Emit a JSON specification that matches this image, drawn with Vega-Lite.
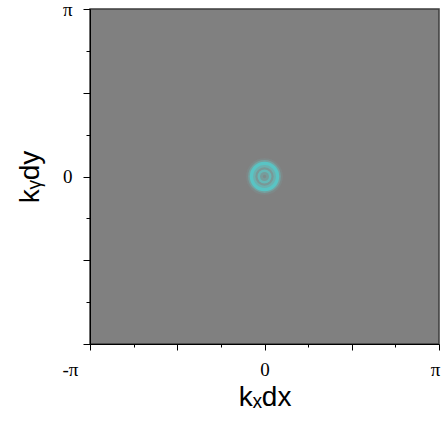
{
  "$schema": "https://vega.github.io/schema/vega-lite/v6.json",
  "autosize": "none",
  "padding": {"left": 90, "top": 9, "right": 2, "bottom": 77},
  "width": 349,
  "height": 335,
  "background": "white",
  "config": {
    "view": {"fill": "#808080", "stroke": "#3c3c3c", "strokeWidth": 1.5},
    "axis": {
      "domainColor": "black",
      "tickColor": "black",
      "grid": false,
      "labelFont": "Liberation Serif",
      "labelFontSize": 19,
      "labelColor": "black",
      "titleFont": "Liberation Sans",
      "titleFontSize": 28,
      "titleFontWeight": "normal",
      "titleColor": "black"
    }
  },
  "data": {
    "values": [
      {"kx": 0, "ky": 0, "r": 0.33, "v": 0.1},
      {"kx": 0, "ky": 0, "r": 0.295, "v": 0.4},
      {"kx": 0, "ky": 0, "r": 0.265, "v": 0.85},
      {"kx": 0, "ky": 0, "r": 0.205, "v": 0.6},
      {"kx": 0, "ky": 0, "r": 0.165, "v": 0.3},
      {"kx": 0, "ky": 0, "r": 0.125, "v": 0.7},
      {"kx": 0, "ky": 0, "r": 0.08, "v": 0.35},
      {"kx": 0, "ky": 0, "r": 0.03, "v": 0.15}
    ]
  },
  "mark": {"type": "point", "filled": true, "shape": "circle", "opacity": 1, "strokeWidth": 0},
  "encoding": {
    "x": {
      "field": "kx",
      "type": "quantitative",
      "scale": {"domain": [-3.14159265, 3.14159265], "nice": false, "zero": false},
      "axis": {
        "title": "kₓdx",
        "values": [-3.14159265, -2.35619449, -1.57079633, -0.78539816, 0, 0.78539816, 1.57079633, 2.35619449, 3.14159265],
        "labelExpr": "datum.value < -3 ? '-π' : (datum.value > 3 ? 'π' : (abs(datum.value) < 0.01 ? '0' : ''))",
        "labelFlush": false,
        "labelBound": false,
        "labelOverlap": false,
        "labelPadding": 10,
        "labelOffset": {"condition": [{"test": "datum.value < -3", "value": -20}, {"test": "datum.value > 3", "value": -4}], "value": 0},
        "tickSize": {"condition": {"test": "abs(datum.value / 1.5707963 - round(datum.value / 1.5707963)) < 0.01", "value": 6}, "value": 3},
        "titlePadding": 4
      }
    },
    "y": {
      "field": "ky",
      "type": "quantitative",
      "scale": {"domain": [-3.14159265, 3.14159265], "nice": false, "zero": false},
      "axis": {
        "title": "kᵧdy",
        "values": [-3.14159265, -2.35619449, -1.57079633, -0.78539816, 0, 0.78539816, 1.57079633, 2.35619449, 3.14159265],
        "labelExpr": "datum.value > 3 ? 'π' : (abs(datum.value) < 0.01 ? '0' : '')",
        "labelFlush": false,
        "labelBound": false,
        "labelOverlap": false,
        "labelPadding": 11,
        "tickSize": {"condition": {"test": "abs(datum.value / 1.5707963 - round(datum.value / 1.5707963)) < 0.01", "value": 7}, "value": 4},
        "titlePadding": 18
      }
    },
    "size": {
      "field": "r",
      "type": "quantitative",
      "legend": null,
      "scale": {"type": "pow", "exponent": 2, "domain": [0, 0.33], "range": [0, 1344], "zero": true}
    },
    "color": {
      "field": "v",
      "type": "quantitative",
      "legend": null,
      "scale": {"domain": [0, 1], "range": ["#808080", "#48d0d0"]}
    },
    "order": {"field": "r", "sort": "descending"}
  }
}
